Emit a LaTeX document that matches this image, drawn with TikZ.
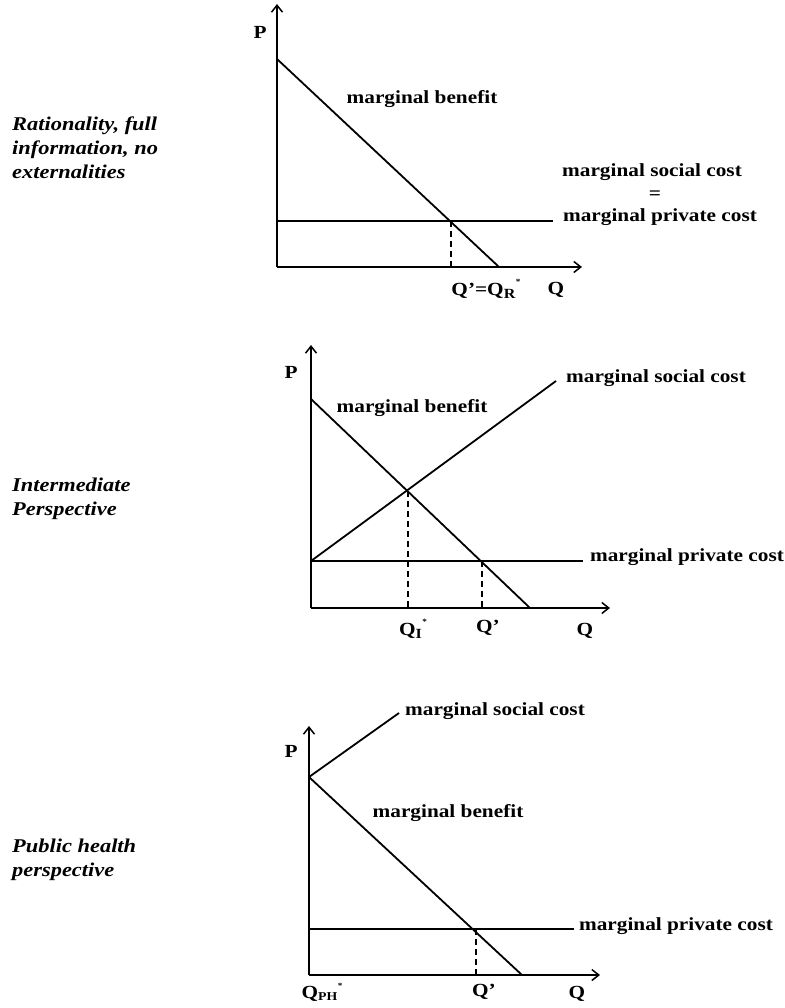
\documentclass[tikz,border=0pt]{standalone}
\usepackage{graphicx}
\usepackage{fontspec}
\setmainfont{Liberation Serif}
\usetikzlibrary{arrows.meta}
\newcommand{\hstretch}[1]{\scalebox{1.15}[1]{#1}}
\newcommand{\smstar}{\raisebox{0.55em}{\fontsize{8}{8}\selectfont *}}
\tikzset{
  axis/.style={line width=1.8pt,-{Straight Barb[length=7pt,width=11pt,line width=1.5pt]}},
  curve/.style={line width=1.8pt},
  guide/.style={line width=1.5pt,dash pattern=on 6pt off 4pt},
  lbl/.style={font=\bfseries\fontsize{18.5}{22}\selectfont,inner sep=0pt},
  axlbl/.style={font=\bfseries\fontsize{18.5}{22}\selectfont,inner sep=0pt},
  side/.style={font=\bfseries\itshape\fontsize{19.5}{24}\selectfont,anchor=west,inner sep=0pt}
}
\begin{document}
\begin{tikzpicture}[x=1pt,y=-1pt]
\useasboundingbox (0,0) rectangle (784,1008);
% ---------- Panel 1 ----------
\coordinate (o1) at (277,267);
\coordinate (ytop1) at (277,4);
\coordinate (xend1) at (582,267);
\coordinate (mb1a) at (277,59);
\coordinate (mb1b) at (499,267);
\coordinate (mpc1a) at (277,221);
\coordinate (mpc1b) at (553,221);
\coordinate (eq1) at (451,221);
\coordinate (eq1b) at (451,267);
\draw[axis] (o1) -- (ytop1);
\draw[axis] (o1) -- (xend1);
\draw[curve] (mb1a) -- (mb1b);
\draw[curve] (mpc1a) -- (mpc1b);
\draw[guide] (eq1) -- (eq1b);
\node[axlbl] (p1) at (260,32) {\hstretch{P}};
\node[axlbl] (q1) at (556,290) {\hstretch{Q}};
\node[lbl] (mb1) at (422,99) {\hstretch{marginal benefit}};
\node[lbl] (msc1) at (652,172) {\hstretch{marginal social cost}};
\node[lbl] (eqs1) at (655,195) {\hstretch{=}};
\node[lbl] (mpc1) at (660,217) {\hstretch{marginal private cost}};
\node[axlbl] (qr1) at (486,289) {\hstretch{Q’=Q\textsubscript{\fontsize{14}{14}\selectfont R}\smstar}};
\node[side] (s1) at (12,150) {\hstretch{\begin{tabular}{@{}l@{}}Rationality, full\\information, no\\externalities\end{tabular}}};
% ---------- Panel 2 ----------
\coordinate (o2) at (311,608);
\coordinate (ytop2) at (311,345);
\coordinate (xend2) at (610,608);
\coordinate (mb2a) at (311,399);
\coordinate (mb2b) at (530,608);
\coordinate (msc2a) at (311,561);
\coordinate (msc2b) at (556,381);
\coordinate (mpc2a) at (311,561);
\coordinate (mpc2b) at (583,561);
\coordinate (qi2) at (408,491);
\coordinate (qi2b) at (408,608);
\coordinate (qp2) at (482,561);
\coordinate (qp2b) at (482,608);
\draw[axis] (o2) -- (ytop2);
\draw[axis] (o2) -- (xend2);
\draw[curve] (mb2a) -- (mb2b);
\draw[curve] (msc2a) -- (msc2b);
\draw[curve] (mpc2a) -- (mpc2b);
\draw[guide] (qi2) -- (qi2b);
\draw[guide] (qp2) -- (qp2b);
\node[axlbl] (p2) at (291,372) {\hstretch{P}};
\node[axlbl] (q2) at (585,631) {\hstretch{Q}};
\node[lbl] (mb2) at (412,408) {\hstretch{marginal benefit}};
\node[lbl] (msc2) at (656,378) {\hstretch{marginal social cost}};
\node[lbl] (mpc2) at (687,557) {\hstretch{marginal private cost}};
\node[axlbl] (qi2l) at (413,629) {\hstretch{Q\textsubscript{\fontsize{14}{14}\selectfont I}\smstar}};
\node[axlbl] (qp2l) at (488,628) {\hstretch{Q’}};
\node[side] (s2) at (12,499) {\hstretch{\begin{tabular}{@{}l@{}}Intermediate\\Perspective\end{tabular}}};
% ---------- Panel 3 ----------
\coordinate (o3) at (309,975);
\coordinate (ytop3) at (309,726);
\coordinate (xend3) at (600,975);
\coordinate (mb3a) at (309,777);
\coordinate (mb3b) at (522,975);
\coordinate (msc3b) at (399,713);
\coordinate (mpc3a) at (309,929);
\coordinate (mpc3b) at (574,929);
\coordinate (qp3) at (476,929);
\coordinate (qp3b) at (476,975);
\draw[axis] (o3) -- (ytop3);
\draw[axis] (o3) -- (xend3);
\draw[curve] (mb3a) -- (mb3b);
\draw[curve] (mb3a) -- (msc3b);
\draw[curve] (mpc3a) -- (mpc3b);
\draw[guide] (qp3) -- (qp3b);
\node[axlbl] (p3) at (291,751) {\hstretch{P}};
\node[axlbl] (q3) at (577,994) {\hstretch{Q}};
\node[lbl] (mb3) at (448,813) {\hstretch{marginal benefit}};
\node[lbl] (msc3) at (495,711) {\hstretch{marginal social cost}};
\node[lbl] (mpc3) at (676,926) {\hstretch{marginal private cost}};
\node[axlbl] (qph3) at (322,992) {\hstretch{Q\textsubscript{\fontsize{12}{12}\selectfont PH}\smstar}};
\node[axlbl] (qp3l) at (484,992) {\hstretch{Q’}};
\node[side] (s3) at (12,860) {\hstretch{\begin{tabular}{@{}l@{}}Public health\\perspective\end{tabular}}};
\end{tikzpicture}
\end{document}
